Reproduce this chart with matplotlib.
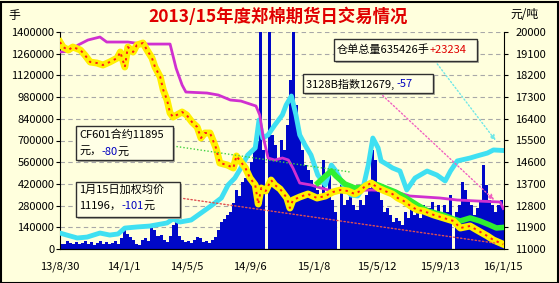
import numpy as np
import matplotlib.pyplot as plt
from matplotlib.patches import Rectangle
from matplotlib.lines import Line2D

plt.rcParams['font.family'] = ['Noto Sans CJK SC', 'DejaVu Sans']

# ---- data (x = trading-day index from 13/8/30) ----
tick_days = [0, 84, 168, 252, 336, 420, 504, 588]
tick_labels = ['13/8/30', '14/1/1', '14/5/5', '14/9/6', '15/1/8', '15/5/12', '15/9/13', '16/1/15']

# daily volume (thousand lots), one bar per 4 days
vol_k = [35, 30, 50, 38, 30, 45, 32, 40, 52, 30,
         44, 25, 40, 50, 30, 45, 35, 40, 50, 30,
         70, 135, 100, 80, 55, 30, 25, 60, 70, 50,
         150, 120, 85, 90, 55, 45, 85, 155, 180, 85,
         55, 45, 50, 40, 55, 80, 70, 45, 50, 40,
         60, 80, 120, 175, 195, 220, 240, 300, 380, 340,
         430, 460, 495, 560, 640, 700, 1600, 640, 0, 1600,
         736, 671, 574, 703, 640, 800, 1090, 1400, 929, 768,
         640, 542, 510, 445, 406, 380, 316, 574, 348, 477,
         316, 239, 0, 413, 284, 316, 348, 284, 252, 316,
         284, 348, 394, 640, 574, 368, 316, 239, 265, 220,
         175, 200, 180, 155, 240, 200, 284, 220, 252, 200,
         284, 240, 265, 303, 240, 284, 220, 284, 240, 348,
         0, 240, 284, 432, 380, 316, 284, 220, 265, 316,
         542, 413, 316, 284, 240, 284, 316, 265]

# warehouse receipts (thousand lots)
cyan_days = [0, 9, 23, 36, 53, 66, 77, 86, 102, 119, 142, 150, 159, 174, 187, 200, 214, 223, 232, 240,
             249, 259, 264, 269, 276, 285, 295, 300, 307, 313, 318, 325, 333, 342, 352, 360, 366, 378, 386, 395,
             402, 409, 415, 422, 426, 435, 441, 451, 460, 471, 487, 500, 511, 518, 527, 544, 553, 567, 575, 588]
cyan_k = [103, 90, 71, 77, 103, 90, 97, 135, 142, 148, 168, 194, 174, 187, 232, 277, 329, 413, 458, 523,
          606, 652, 832, 716, 736, 800, 865, 929, 987, 865, 736, 671, 606, 477, 413, 542, 503, 394, 348, 342,
          394, 542, 716, 652, 568, 542, 523, 503, 381, 458, 503, 477, 439, 503, 568, 587, 600, 619, 639, 635.426]

# 3128B index
idx_days = [0, 13, 24, 37, 53, 62, 90, 110, 146, 150, 154, 162, 167, 195, 210, 226, 240, 260, 265, 269,
            276, 285, 295, 303, 309, 318, 333, 346, 356, 373, 413, 441, 464, 504, 527, 553, 584, 588]
idx_price = [19170, 19210, 19460, 19667, 19792, 19584, 19584, 19500, 19500, 19000, 18500, 17800, 17510, 17469,
             17386, 17179, 17137, 16930, 16557, 15728, 14774, 14691, 14774, 14691, 14359, 13737, 13654, 13530,
             13447, 13405, 13447, 13405, 13198, 13115, 13032, 12991, 12949, 12679]

# weighted average futures price
avg_days = [0, 4, 11, 17, 27, 33, 40, 49, 57, 66, 76, 80, 86, 90, 97, 102, 110, 117, 122, 126,
            133, 137, 142, 146, 150, 162, 168, 175, 182, 187, 192, 199, 207, 212, 222, 230, 234, 239, 246, 252,
            259, 263, 267, 273, 280, 285, 292, 301, 305, 309, 318, 329, 341, 352, 362, 372, 382, 391, 398, 405,
            413, 422, 431, 441, 448, 456, 465, 474, 482, 496, 509, 522, 531, 544, 553, 567, 575, 588]
avg_price = [19584, 19377, 19253, 19377, 19253, 19045, 18755, 18713, 18630, 18755, 18921, 19170, 18548, 19377,
             19170, 19460, 19543, 19170, 18921, 18548, 18133, 17594, 17179, 16640, 16474, 16681, 16557, 16267,
             16059, 15603, 15810, 15810, 15188, 14566, 14483, 14359, 14857, 14649, 14359, 13944, 13654, 12866,
             13530, 13405, 13861, 13654, 13488, 13115, 12700, 13032, 13156, 13281, 13115, 13198, 13364, 13447,
             13405, 13281, 13405, 13613, 13737, 13530, 13405, 13281, 13115, 12991, 12783, 12617, 12576, 12410,
             12286, 12161, 11871, 11954, 11788, 11539, 11373, 11196]

# CF601 contract
cf_days = [342, 352, 360, 366, 378, 391, 405, 413, 422, 435, 445, 455, 474, 488, 508, 522, 531, 544, 557, 570, 579, 588]
cf_price = [13737, 14027, 14235, 14027, 13696, 13530, 13571, 13737, 13654, 13488, 13364, 13198, 12825, 12576,
            12410, 12244, 12161, 12286, 12161, 11995, 11871, 11895]

W, H = 559, 283
bg = '#FFFFDD'


def px(x, y):
    return (x / W, 1 - y / H)


fig = plt.figure(figsize=(W / 100, H / 100), dpi=100, facecolor=bg)
ax = fig.add_axes([60 / W, 1 - 249 / H, 444 / W, 217 / H], facecolor=bg)
ax2 = ax.twinx()

vol = np.array(vol_k) * 1000
bar_x = np.arange(len(vol)) * 4
ax.bar(bar_x, vol, width=4, align='edge', color='#0008C8', linewidth=0, zorder=2)
ax.plot(cyan_days, np.array(cyan_k) * 1000, color='#3FE0F2', lw=3.5, zorder=3,
        solid_joinstyle='round')

ax2.plot(idx_days, idx_price, color='#D030D0', lw=2, zorder=3)
ax2.plot(cf_days, cf_price, color='#30F030', lw=4, zorder=4, solid_joinstyle='round')
ax2.plot(avg_days, avg_price, color='#FFF000', lw=5, zorder=5, solid_joinstyle='round')
ax2.plot(avg_days, avg_price, color='#FF1A1A', lw=1.4, ls=(0, (1.2, 2.2)), zorder=6)

ax.set_xlim(0, 589)
ax.set_ylim(0, 1400000)
ax2.set_ylim(11000, 20000)
ax.set_yticks(np.arange(0, 1400001, 140000))
ax.set_yticklabels([str(v) for v in range(0, 1400001, 140000)])
ax2.set_yticks(np.arange(11000, 20001, 900))
ax.set_xticks(tick_days)
ax.set_xticklabels(tick_labels)

ax.grid(axis='y', color='#A8A8A8', ls=(0, (4, 3)), lw=0.8)
ax.set_axisbelow(True)
ax.tick_params(axis='y', length=3, pad=1, labelsize=8)
ax2.tick_params(axis='y', length=3, pad=5, labelsize=8)
ax.tick_params(axis='x', length=0, pad=9, labelsize=8)
for a in (ax, ax2):
    a.spines['top'].set_visible(False)
ax.spines['right'].set_visible(False)
ax2.spines['left'].set_visible(False)

# titles / units
fig.text(*px(278, 17), '2013/15年度郑棉期货日交易情况', color='#E00000', fontsize=12.5,
         fontweight='bold', ha='center', va='center')
fig.text(*px(8, 15), '手', fontsize=8.5, ha='left', va='center')
fig.text(*px(510, 15), '元/吨', fontsize=8.5, ha='left', va='center')

renderer = fig.canvas.get_renderer()


def box(x0, y0, x1, y1):
    fig.patches.append(Rectangle(px(x0 + 2, y1 + 2), (x1 - x0) / W, (y1 - y0) / H,
                                 transform=fig.transFigure, fc='#B0B0A0', ec='none', zorder=8))
    fig.patches.append(Rectangle(px(x0, y1), (x1 - x0) / W, (y1 - y0) / H,
                                 transform=fig.transFigure, fc='#FFFFE6', ec='#303030', lw=1, zorder=9))


def chain(x, y, parts, size=8):
    # place text pieces one after another on one line
    for s, c in parts:
        t = fig.text(*px(x, y), s, color=c, fontsize=size, ha='left', va='center', zorder=10)
        x += t.get_window_extent(renderer=renderer).width


def dotted(x0, y0, x1, y1, c):
    fig.add_artist(Line2D([x0 / W, x1 / W], [1 - y0 / H, 1 - y1 / H], transform=fig.transFigure,
                          color=c, lw=1, ls=(0, (1, 1.5)), zorder=7))


# connectors
ax.annotate('', xy=(cyan_days[-1], cyan_k[-1] * 1000), xycoords='data',
            xytext=px(435, 61), textcoords='figure fraction',
            arrowprops=dict(arrowstyle='-|>', color='#70E8E8', lw=1, ls=':', mutation_scale=8,
                            shrinkA=0, shrinkB=9), zorder=7)
ax2.annotate('', xy=(idx_days[-1], idx_price[-1]), xycoords='data',
             xytext=px(380, 93), textcoords='figure fraction',
             arrowprops=dict(arrowstyle='-|>', color='#F060C0', lw=1, ls=':', mutation_scale=8,
                             shrinkA=0, shrinkB=9), zorder=7)
dotted(173, 146, 350, 172, '#40D040')
ax2.annotate('', xy=(avg_days[-1], avg_price[-1]), xycoords='data',
             xytext=px(180, 198), textcoords='figure fraction',
             arrowprops=dict(arrowstyle='-', color='#E05050', lw=1, ls=':', shrinkA=0, shrinkB=6),
             zorder=7)

blue = '#0000C0'
box(334, 39, 477, 61)
chain(337, 50, [('仓单总量635426手', 'black'), ('+23234', '#E00000')])

box(303, 74, 433, 93)
chain(306, 84, [('3128B指数12679, ', 'black'), ('-57', blue)])

box(76, 126, 173, 160)
chain(79, 135, [('CF601合约11895', 'black')])
chain(79, 152, [('元，', 'black'), ('-80', blue), ('元', 'black')])

box(76, 182, 180, 217)
chain(79, 190, [('1月15日加权均价', 'black')])
chain(79, 206, [('11196，', 'black'), ('-101', blue), ('元', 'black')])

# outer frame
fig.patches.append(Rectangle((0.5 / W, 0.5 / H), (W - 2) / W, (H - 2) / H, transform=fig.transFigure,
                             fc='none', ec='black', lw=1.5, zorder=20))

fig.savefig('out.png', dpi=100, facecolor=bg)
